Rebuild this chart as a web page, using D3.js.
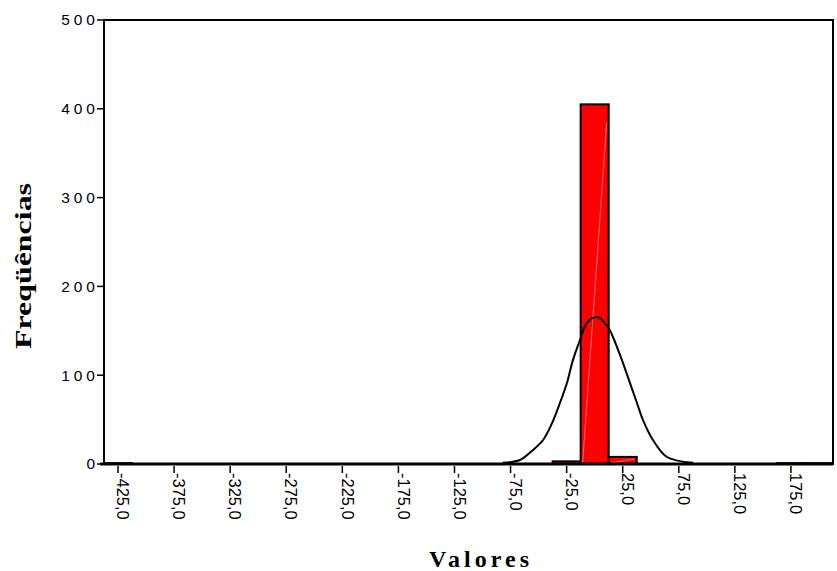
<!DOCTYPE html>
<html>
<head>
<meta charset="utf-8">
<script src="https://cdn.jsdelivr.net/npm/d3@7"></script>
<style>
  html, body { margin: 0; padding: 0; background: #fff; }
  svg { display: block; }
</style>
</head>
<body>
<svg id="chart" width="837" height="571"></svg>
<script>
// ---- Data ----
const binCenters = [-425,-400,-375,-350,-325,-300,-275,-250,-225,-200,-175,-150,-125,-100,-75,-50,-25,0,25,50,75,100,125,150,175,200];
const counts     = [1,0,0,0,0,0,0,0,0,0,0,0,0,0,0,0,3,405,8,0,0,0,0,0,1,1];
const binWidth = 25;
const xTickValues = [-425,-375,-325,-275,-225,-175,-125,-75,-25,25,75,125,175];
const yTickValues = [0,100,200,300,400,500];
// normal curve
const curveX = [-82,-66.6,-55,-46,-38,-31,-24.8,-19.4,-13.1,-6.9,2,11.9,16.3,24.3,31.5,37.7,43.1,52,64.5,87.7];
const curveY = [1.5,4.5,15.8,27,46,68.7,91,117,139.6,158.8,165.5,154,143,117,91,68.7,49.5,27,7.9,1.5];
const xTitle = "Valores";
const yTitle = "Freqüências";

// ---- Layout ----
const L = 104, R = 833, T = 20, B = 464;
const svg = d3.select("#chart");

const x = d3.scaleLinear().domain([-437.5, 212.5]).range([L, R]);
const y = d3.scaleLinear().domain([0, 500]).range([B, T]);

// bars
const bars = binCenters.map((c, i) => ({c, v: counts[i]})).filter(d => d.v > 0);
svg.append("g").selectAll("rect").data(bars).join("rect")
  .attr("x", d => x(d.c - binWidth/2))
  .attr("y", d => y(d.v))
  .attr("width", d => x(d.c + binWidth/2) - x(d.c - binWidth/2))
  .attr("height", d => B - y(d.v))
  .attr("fill", "#ff0000")
  .attr("stroke", "#000")
  .attr("stroke-width", 2);

// faint diagonal artefact inside bars
svg.append("g").selectAll("line").data(bars.filter(d => d.v > 3)).join("line")
  .attr("x1", d => x(d.c - binWidth/2) + 2)
  .attr("y1", B - 1)
  .attr("x2", d => x(d.c + binWidth/2) - 2)
  .attr("y2", d => y(d.v) + 18 > B ? y(d.v) + 2 : y(d.v) + 18)
  .attr("stroke", "#ff9a9a")
  .attr("stroke-width", 1)
  .attr("opacity", 0.7);

// frame
svg.append("rect")
  .attr("x", L).attr("y", T).attr("width", R - L).attr("height", B - T)
  .attr("fill", "none").attr("stroke", "#000").attr("stroke-width", 2);
// thicker baseline
svg.append("line").attr("x1", L - 4).attr("x2", R).attr("y1", B).attr("y2", B)
  .attr("stroke", "#000").attr("stroke-width", 3);

// normal curve
const pts = curveX.map((v, i) => [v, curveY[i]]);
svg.append("path")
  .datum(pts)
  .attr("d", d3.line().x(d => x(d[0])).y(d => y(d[1])).curve(d3.curveCatmullRom.alpha(0.5)))
  .attr("fill", "none").attr("stroke", "#000").attr("stroke-width", 2);

// y axis
const yAxis = svg.append("g");
yAxis.selectAll("line").data(yTickValues).join("line")
  .attr("x1", L - 7).attr("x2", L).attr("y1", d => y(d)).attr("y2", d => y(d))
  .attr("stroke", "#000").attr("stroke-width", 1.5);
yAxis.selectAll("text").data(yTickValues).join("text")
  .attr("x", L - 5).attr("y", d => y(d))
  .attr("dy", "0.35em")
  .attr("text-anchor", "end")
  .attr("font-family", "'Liberation Sans', Arial, sans-serif")
  .attr("font-size", 15.5)
  .attr("letter-spacing", 4)
  .text(d => d);

// x axis
const xAxis = svg.append("g");
xAxis.selectAll("line").data(xTickValues).join("line")
  .attr("x1", d => x(d)).attr("x2", d => x(d)).attr("y1", B + 2).attr("y2", B + 9)
  .attr("stroke", "#000").attr("stroke-width", 1.5);
const fmt = d => d3.format(".1f")(d).replace(".", ",").replace("−", "-");
xAxis.selectAll("text").data(xTickValues).join("text")
  .attr("transform", d => `translate(${x(d) + 5},${B + 9}) rotate(90)`)
  .attr("dy", "0.35em")
  .attr("text-anchor", "start")
  .attr("font-family", "'Liberation Sans', Arial, sans-serif")
  .attr("font-size", 16.5)
  .text(fmt);

// titles
svg.append("text")
  .attr("x", 481).attr("y", 567)
  .attr("text-anchor", "middle")
  .attr("font-family", "'Liberation Serif', 'Times New Roman', serif")
  .attr("font-weight", "bold")
  .attr("font-size", 24)
  .attr("letter-spacing", 4)
  .text(xTitle);

svg.append("text")
  .attr("transform", "translate(31,266) rotate(-90)")
  .attr("text-anchor", "middle")
  .attr("font-family", "'Liberation Serif', 'Times New Roman', serif")
  .attr("font-weight", "bold")
  .attr("font-size", 23)
  .attr("textLength", 166)
  .attr("lengthAdjust", "spacingAndGlyphs")
  .text(yTitle);
</script>
</body>
</html>
